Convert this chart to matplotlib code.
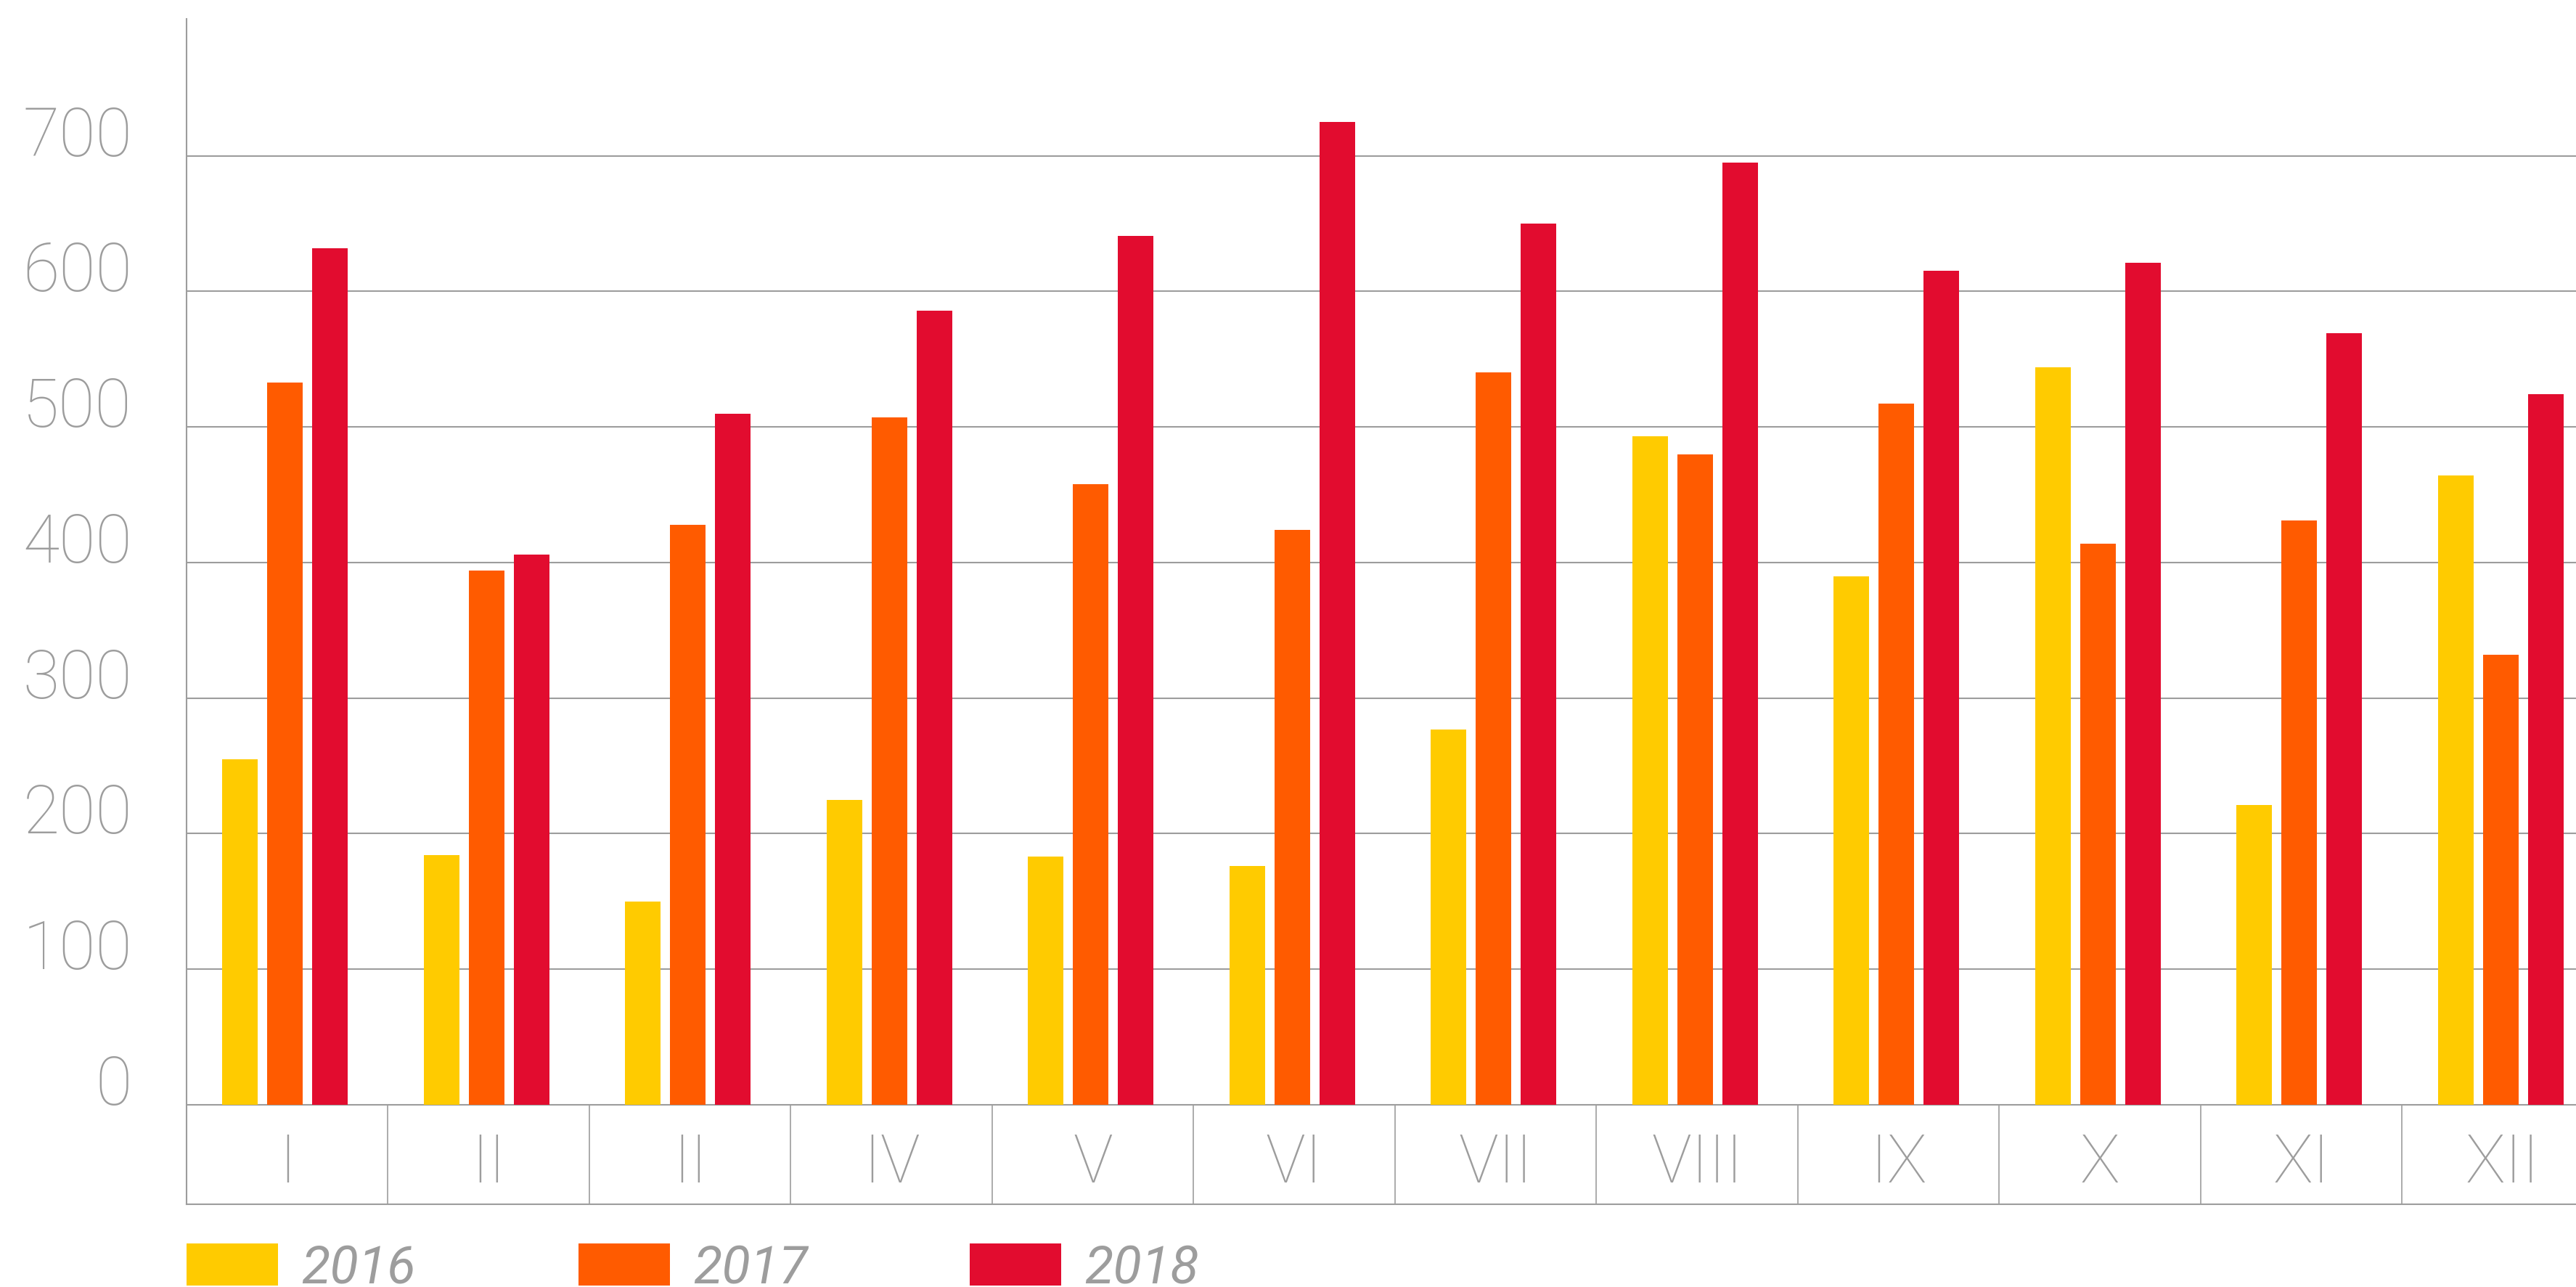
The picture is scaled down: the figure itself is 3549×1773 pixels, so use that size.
import matplotlib.pyplot as plt
import numpy as np

# fonts / colours
plt.rcParams['font.family'] = ['Roboto', 'DejaVu Sans']
grey = '#9d9d9d'

# data
months = ['I', 'II', 'II', 'IV', 'V', 'VI', 'VII', 'VIII', 'IX', 'X', 'XI', 'XII']
years = ['2016', '2017', '2018']
v2016 = [255, 184, 150, 225, 183, 176, 277, 493, 390, 544, 221, 464]
v2017 = [533, 394, 428, 507, 458, 424, 540, 480, 517, 414, 431, 332]
v2018 = [632, 406, 510, 586, 641, 725, 650, 695, 615, 621, 569, 524]
colors = ['#ffcb00', '#ff5b00', '#e20c2f']

fig = plt.figure(figsize=(17.745, 8.865), dpi=200)
# axes runs off the right edge like the original
ax = fig.add_axes([0.0724, 0.0643, 0.9383, 0.9210])

x = np.arange(len(months))
w = 0.1765
step = 0.2233
bars = []
for i, (vals, c) in enumerate(zip([v2016, v2017, v2018], colors)):
    b = ax.bar(x + (i - 1) * step - 0.01, vals, width=w, color=c, zorder=3)
    bars.append(b)

ax.set_xlim(-0.5, len(months) - 0.5)
ax.set_ylim(-73.4, 801)

# grid + category band
ax.set_yticks(range(0, 800, 100))
ax.yaxis.grid(True, color=grey, lw=0.75)
ax.set_axisbelow(True)
ax.vlines(np.arange(len(months) + 1) - 0.5, -73.4, 0, color=grey, lw=0.6, zorder=2)

for s in ['top', 'right']:
    ax.spines[s].set_visible(False)
for s in ['left', 'bottom']:
    ax.spines[s].set_color(grey)
    ax.spines[s].set_linewidth(0.75)

# tick labels
ax.set_xticks(x, months)
ax.tick_params(axis='x', length=0, pad=-10.8, labelsize=33, labelcolor=grey)
ax.tick_params(axis='y', length=0, pad=27, labelsize=33, labelcolor=grey)
plt.setp(ax.get_xticklabels(), va='baseline', fontweight='light')
plt.setp(ax.get_yticklabels(), va='baseline', fontweight='light')

# legend
leg = fig.legend([b[0] for b in bars], years, loc='upper left',
                 bbox_to_anchor=(0.0724, 0.0338), ncol=3, frameon=False,
                 fontsize=26, handlelength=1.75, handleheight=0.85,
                 handletextpad=0.44, columnspacing=3.1,
                 borderpad=0, borderaxespad=0)
for t in leg.get_texts():
    t.set_color(grey)
    t.set_fontstyle('italic')

fig.savefig('out.png', dpi=200)
